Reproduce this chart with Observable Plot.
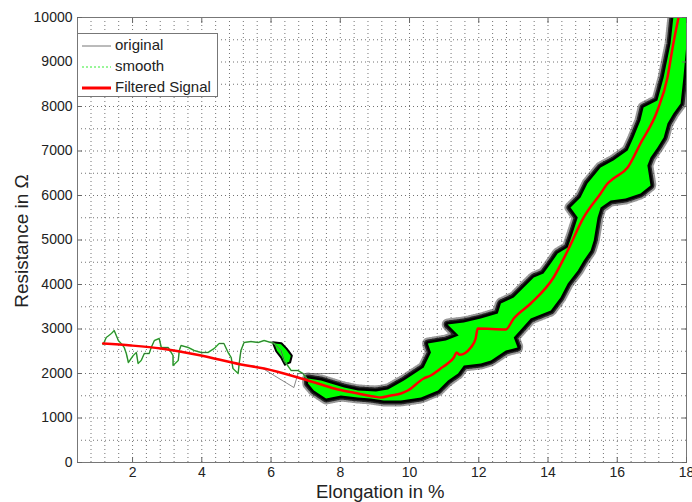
<!DOCTYPE html>
<html><head><meta charset="utf-8">
<script src="https://cdn.jsdelivr.net/npm/d3@7"></script>
<script src="https://cdn.jsdelivr.net/npm/@observablehq/plot@0.6"></script>
<style>
body{margin:0;background:#fff;font-family:"Liberation Sans",Arial,sans-serif;}
#wrap{position:relative;width:692px;height:502px;overflow:hidden;}
#legend{position:absolute;left:77px;top:33px;width:141px;height:64px;background:#fff;border:1px solid #777;box-sizing:border-box;font-size:15px;color:#222;}
#legend .row{position:absolute;left:0;height:20px;width:140px;}
#legend svg{position:absolute;left:4px;top:4px;}
#legend span{position:absolute;left:37px;top:0px;white-space:nowrap;}
.axlab{position:absolute;font-size:19px;line-height:14px;color:#222;white-space:nowrap;}
</style></head>
<body>
<div id="wrap">
<div id="chart"></div>
<div id="legend">
  <div class="row" style="top:2px"><svg width="30" height="12"><line x1="0" y1="6" x2="29" y2="6" stroke="#777" stroke-width="1"/></svg><span>original</span></div>
  <div class="row" style="top:23px"><svg width="30" height="12"><line x1="0" y1="6" x2="29" y2="6" stroke="#33ee33" stroke-width="1" stroke-dasharray="2,2"/></svg><span>smooth</span></div>
  <div class="row" style="top:44px"><svg width="30" height="12"><line x1="0" y1="6" x2="29" y2="6" stroke="#ff0000" stroke-width="3"/></svg><span>Filtered Signal</span></div>
</div>
<div class="axlab" style="left:316px;top:485px;font-size:18.5px;">Elongation in %</div>
<div class="axlab" style="left:22px;top:241px;transform:translate(-50%,-50%) rotate(-90deg);">Resistance in Ω</div>
</div>
<script>
// ---- tick labels ----
const xTicks = [2, 4, 6, 8, 10, 12, 14, 16, 18];
const yTicks = [0, 1000, 2000, 3000, 4000, 5000, 6000, 7000, 8000, 9000, 10000];

// ---- dense band of the original / smooth signal (outline) ----
const bandX = [7.07, 7.44, 8.11, 8.51, 9.03, 9.38, 9.84, 10.41, 10.62, 10.53, 11.05, 11.42, 11.10, 11.57, 12.06, 12.55, 12.64, 13.01, 13.30, 13.59, 13.87, 14.08, 14.28, 14.57, 14.71, 14.86, 14.65, 14.94, 15.14, 15.52, 15.89, 16.30, 16.47, 16.67, 16.76, 17.16, 17.34, 17.54, 17.62, 18.0,
  18.0, 17.91, 17.83, 17.62, 17.45, 17.34, 17.16, 16.96, 16.87, 16.96, 16.67, 16.24, 15.81, 15.52, 15.43, 15.32, 15.23, 15.03, 14.86, 14.57, 14.36, 14.08, 13.50, 13.01, 13.12, 12.78, 12.35, 12.06, 11.57, 11.40, 11.11, 10.82, 10.33, 9.75, 9.26, 8.88, 8.51, 8.02, 7.59, 7.24, 7.07];
const bandY = [1887, 1843, 1685, 1618, 1595, 1640, 1843, 2135, 2472, 2674, 2741, 2854, 3100, 3146, 3236, 3348, 3573, 3708, 3932, 4157, 4247, 4472, 4696, 4831, 5146, 5505, 5730, 5955, 6269, 6629, 6786, 7011, 7303, 7685, 7977, 8134, 8651, 9415, 10000, 10000,
  9415, 8651, 8067, 7842, 7617, 7303, 7078, 6854, 6674, 6224, 6044, 5932, 5887, 5730, 5505, 4988, 4764, 4539, 4314, 4022, 3708, 3415, 3236, 2809, 2584, 2517, 2292, 2225, 2180, 2000, 1843, 1618, 1461, 1393, 1393, 1438, 1461, 1505, 1438, 1618, 1775];

// small dense cluster near 6 %
const blobX = [6.05, 6.30, 6.45, 6.60, 6.55, 6.40, 6.30, 6.15];
const blobY = [2700, 2680, 2560, 2400, 2250, 2200, 2350, 2500];

// ---- sparse original signal at low elongation ----
const origX = [1.15, 1.24, 1.39, 1.47, 1.53, 1.59, 1.67, 1.76, 1.82, 1.88, 2.02, 2.11, 2.16, 2.25, 2.34, 2.48, 2.54, 2.63, 2.77, 2.83, 3.03, 3.17, 3.17, 3.32, 3.35, 3.40, 3.61, 3.78, 3.98, 4.18, 4.36, 4.50, 4.64, 4.76, 4.85, 4.90, 5.05, 5.08, 5.13, 5.22, 5.42, 5.63, 5.80, 6.09, 6.29, 6.38, 6.58, 6.78, 6.92, 7.07];
const origY = [2651, 2809, 2899, 2966, 2854, 2741, 2674, 2584, 2449, 2247, 2404, 2472, 2225, 2292, 2449, 2449, 2584, 2741, 2786, 2584, 2584, 2404, 2180, 2292, 2517, 2629, 2584, 2517, 2472, 2472, 2562, 2674, 2674, 2472, 2359, 2112, 2000, 2225, 2517, 2696, 2719, 2696, 2741, 2674, 2517, 2292, 2067, 2067, 2000, 1843];
const branchX = [5.72, 6.10, 6.66, 6.78, 7.94];
const branchY = [2135, 1950, 1685, 2000, 2000];

// ---- filtered signal ----
const redX = [1.15, 1.96, 2.82, 3.98, 5.13, 5.80, 6.78, 7.35, 7.93, 8.51, 8.97, 9.17, 9.46, 9.75, 9.95, 10.41, 10.61, 10.90, 11.10, 11.28, 11.36, 11.45, 11.77, 11.91, 11.97, 12.78, 13.01, 13.50, 14.16, 14.57, 15.03, 15.52, 15.72, 15.89, 16.30, 16.67, 17.16, 17.45, 17.62, 17.77];
const redY = [2674, 2629, 2562, 2404, 2202, 2112, 1910, 1775, 1640, 1551, 1483, 1461, 1506, 1551, 1618, 1888, 1955, 2112, 2225, 2360, 2470, 2420, 2584, 2787, 3011, 2990, 3236, 3573, 4157, 4764, 5506, 6045, 6270, 6382, 6629, 7169, 7910, 8652, 9416, 10000];

const pts = (xs, ys) => xs.map((x, i) => ({x, y: ys[i]}));
const band = pts(bandX, bandY);
const blob = pts(blobX, blobY);
const orig = pts(origX, origY);
const branch = pts(branchX, branchY);
const red = pts(redX, redY);

const gridStyle = {stroke: "#444", strokeOpacity: 0.75, strokeDasharray: "1,3", strokeWidth: 1};

const chart = Plot.plot({
  width: 692, height: 502,
  marginLeft: 77, marginRight: 6, marginTop: 17, marginBottom: 40,
  x: {domain: [0.41, 18]},
  y: {domain: [0, 10000]},
  style: {fontFamily: "'Liberation Sans', Arial, sans-serif", fontSize: "14px", color: "#222", background: "white"},
  marks: [
    Plot.gridX(d3.range(0.8, 17.9, 0.4), gridStyle),
    Plot.gridY(d3.range(500, 10000, 500), gridStyle),
    // hairy gray fringe
    Plot.line(band, {x: "x", y: "y", curve: "linear-closed", fill: "#00ff00", stroke: "#333", strokeOpacity: 0.5, strokeWidth: 12, strokeDasharray: "0.8,1.7", strokeLinejoin: "round", clip: true}),
    Plot.line(band, {x: "x", y: "y", curve: "linear-closed", fill: "#00ff00", stroke: "#000", strokeOpacity: 0.75, strokeWidth: 8, strokeDasharray: "1.2,1.3", clip: true}),
    Plot.line(band, {x: "x", y: "y", curve: "linear-closed", fill: "#00ff00", stroke: "#000", strokeWidth: 5, clip: true}),
    Plot.line(band, {x: "x", y: "y", curve: "linear-closed", fill: "#00ff00", stroke: "none", clip: true}),
    Plot.line(blob, {x: "x", y: "y", curve: "linear-closed", fill: "#00ff00", stroke: "#000", strokeWidth: 2}),
    Plot.line(orig, {x: "x", y: "y", stroke: "#44ee44", strokeWidth: 1.5}),
    Plot.line(orig, {x: "x", y: "y", stroke: "#333", strokeWidth: 0.7}),
    Plot.line(branch, {x: "x", y: "y", stroke: "#555", strokeWidth: 0.7}),
    Plot.line(red, {x: "x", y: "y", stroke: "#ff0000", strokeWidth: 2.5, curve: "monotone-x", clip: true}),
    Plot.frame({stroke: "#777"}),
    Plot.axisX(xTicks, {anchor: "bottom", tickSize: -5, tickPadding: 10, label: null, stroke: "#666"}),
    Plot.axisX(xTicks, {anchor: "top", tickSize: -5, tickFormat: () => "", label: null, stroke: "#666"}),
    Plot.axisY(yTicks, {anchor: "left", tickSize: -5, tickPadding: 10, label: null, stroke: "#666", tickFormat: d => String(d)}),
    Plot.axisY(yTicks, {anchor: "right", tickSize: -5, tickFormat: () => "", label: null, stroke: "#666"})
  ]
});
document.getElementById("chart").appendChild(chart);
</script>
</body></html>
